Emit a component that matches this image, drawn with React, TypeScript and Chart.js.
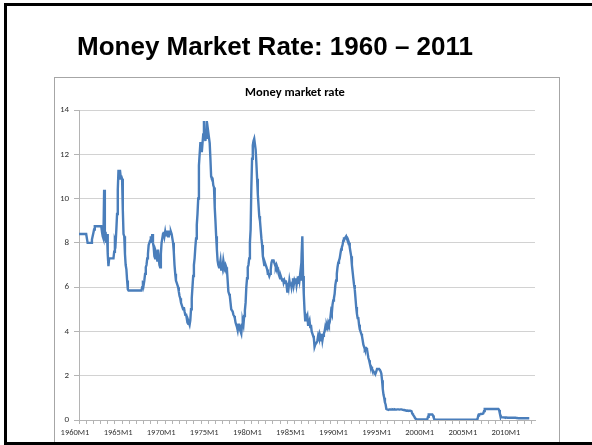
import React, { useEffect, useRef } from 'react';
import { Chart, registerables } from 'chart.js';

Chart.register(...registerables);

const slideTitle = 'Money Market Rate: 1960 – 2011';
const chartTitle = 'Money market rate';

const startYear = 1960;
const endYear = 2012;
const categories: string[] = [];
for (let y = startYear; y <= endYear; y++) {
  for (let m = 1; m <= 12; m++) categories.push(`${y}M${m}`);
}

// monthly values, one row per year
const rate1960s = [
  8.4, 8.4, 8.4, 8.4, 8.4, 8.4, 8.4, 8.4, 8.4, 8.4, 8.4, 8.4,
  8.0, 8.0, 8.0, 8.0, 8.0, 8.0, 8.15, 8.3, 8.45, 8.6, 8.75, 8.75,
  8.75, 8.75, 8.75, 8.75, 8.75, 8.75, 8.75, 8.75, 8.5, 8.3, 8.2, 10.4,
  8.1, 8.5, 8.0, 8.4, 7.5, 6.95, 7.3, 7.3, 7.3, 7.3, 7.3, 7.3,
  7.3, 7.6, 8.1, 8.0, 8.6, 9.3, 10.4, 11.3, 10.9, 11.3, 11.0, 11.0,
  10.9, 9.5, 8.4, 8.3, 7.5, 7.0, 6.8, 6.3, 5.9, 5.85, 5.85, 5.85,
  5.85, 5.85, 5.85, 5.85, 5.85, 5.85, 5.85, 5.85, 5.85, 5.85, 5.85, 5.85,
  5.85, 5.85, 5.85, 5.85, 6.0, 6.3, 6.1, 6.3, 6.6, 6.9, 7.0, 7.3,
  7.5, 7.9, 8.0, 8.1, 8.3, 8.0, 8.4, 8.0, 7.8, 7.4, 7.3, 7.6,
  7.5, 7.2, 7.7, 7.3, 7.0, 6.9, 7.5, 8.0, 8.2, 8.4, 8.5, 8.3,
];

const rate1970s = [
  8.5, 8.3, 8.5, 8.5, 8.3, 8.5, 8.5, 8.4, 8.5, 8.4, 8.2, 8.0,
  7.6, 7.0, 6.6, 6.3, 6.2, 6.1, 6.0, 5.8, 5.6, 5.5, 5.3, 5.2,
  5.1, 5.0, 5.1, 4.9, 4.75, 4.8, 4.6, 4.4, 4.35, 4.4, 4.3, 4.5,
  5.0, 5.5, 6.0, 6.5, 7.0, 7.3, 7.8, 8.2, 8.8, 9.3, 10.0, 11.5,
  12.0, 12.5, 12.5, 12.1, 12.5, 12.9, 13.5, 12.9, 12.6, 13.0, 13.5, 12.7,
  13.0, 13.0, 12.5, 11.8, 11.0, 10.9, 10.9, 10.6, 10.5, 9.6, 9.0, 8.3,
  7.7, 7.2, 7.0, 6.9, 7.0, 7.2, 6.8, 7.1, 6.9, 7.2, 7.0, 6.9,
  7.0, 6.9, 6.8, 6.3, 5.8, 5.7, 5.6, 5.3, 5.0, 5.0, 4.9, 4.75,
  4.7, 4.6, 4.4, 4.3, 4.2, 4.05, 4.3, 4.3, 4.1, 4.0, 3.9, 4.3,
  4.45, 4.3, 4.7, 4.95, 5.3, 6.0, 6.4, 6.9, 7.0, 7.3, 8.0, 8.6,
];

const rate1980s = [
  10.5, 11.8, 12.4, 12.6, 12.7, 12.7, 12.2, 11.6, 10.9, 10.2, 9.7, 9.2,
  9.0, 8.6, 8.2, 7.9, 7.4, 7.2, 7.0, 7.1, 7.0, 6.9, 6.8, 6.6,
  6.6, 6.5, 6.6, 6.8, 7.1, 7.2, 7.2, 7.2, 7.1, 7.0, 6.9, 7.0,
  6.9, 6.8, 6.6, 6.5, 6.4, 6.5, 6.4, 6.3, 6.4, 6.2, 6.3, 6.2,
  6.3, 6.1, 5.8, 6.2, 6.0, 6.3, 6.1, 6.2, 6.0, 6.2, 6.4, 6.1,
  6.3, 6.2, 6.4, 6.1, 6.3, 6.2, 6.5, 6.3, 6.6, 6.3, 7.5, 8.3,
  6.5, 5.7, 5.0, 4.5, 4.7, 4.6, 4.7, 4.3, 4.4, 4.5, 4.2, 4.3,
  4.0, 3.9, 3.8, 3.7, 3.3, 3.4, 3.4, 3.5, 3.6, 3.8, 3.7, 3.9,
  3.8, 3.6, 3.9, 3.6, 3.8, 3.9, 4.0, 4.2, 4.1, 4.3, 4.2, 4.4,
  4.3, 4.4, 4.6, 4.9, 4.8, 5.2, 5.4, 5.5, 5.7, 6.1, 6.3, 6.6,
];

const rate1990s = [
  6.9, 7.1, 7.2, 7.3, 7.5, 7.7, 7.8, 7.9, 8.1, 8.2, 8.2, 8.25,
  8.3, 8.2, 8.2, 8.1, 8.0, 7.8, 7.6, 7.4, 7.0, 6.7, 6.4, 6.1,
  5.9, 5.5, 5.1, 4.8, 4.6, 4.6, 4.3, 4.1, 4.0, 3.9, 3.8, 3.6,
  3.4, 3.3, 3.2, 3.25, 3.25, 3.2, 3.0, 2.8, 2.7, 2.55, 2.45, 2.4,
  2.3, 2.25, 2.2, 2.15, 2.1, 2.1, 2.2, 2.3, 2.3, 2.3, 2.3, 2.25,
  2.2, 2.1, 1.8, 1.4, 1.15, 1.0, 0.8, 0.7, 0.5, 0.48, 0.47, 0.47,
  0.47, 0.48, 0.48, 0.47, 0.47, 0.48, 0.47, 0.47, 0.48, 0.47, 0.47, 0.48,
  0.48, 0.48, 0.47, 0.47, 0.48, 0.48, 0.47, 0.47, 0.45, 0.45, 0.44, 0.44,
  0.42, 0.43, 0.42, 0.42, 0.42, 0.42, 0.41, 0.4, 0.3, 0.25, 0.2, 0.15,
  0.08, 0.05, 0.03, 0.03, 0.03, 0.03, 0.03, 0.03, 0.03, 0.03, 0.03, 0.03,
];

const rate2000s = [
  0.03, 0.03, 0.03, 0.03, 0.03, 0.03, 0.15, 0.25, 0.25, 0.25, 0.25, 0.25,
  0.25, 0.2, 0.1, 0.02, 0.01, 0.01, 0.01, 0.01, 0.01, 0.01, 0.01, 0.01,
  0.01, 0.01, 0.01, 0.01, 0.01, 0.01, 0.01, 0.01, 0.01, 0.01, 0.01, 0.01,
  0.01, 0.01, 0.01, 0.01, 0.01, 0.01, 0.01, 0.01, 0.01, 0.01, 0.01, 0.01,
  0.01, 0.01, 0.01, 0.01, 0.01, 0.01, 0.01, 0.01, 0.01, 0.01, 0.01, 0.01,
  0.01, 0.01, 0.01, 0.01, 0.01, 0.01, 0.01, 0.01, 0.01, 0.01, 0.01, 0.01,
  0.01, 0.01, 0.01, 0.05, 0.2, 0.25, 0.25, 0.27, 0.27, 0.27, 0.28, 0.3,
  0.4, 0.5, 0.5, 0.5, 0.5, 0.5, 0.5, 0.5, 0.5, 0.5, 0.5, 0.5,
  0.5, 0.5, 0.5, 0.5, 0.5, 0.5, 0.5, 0.5, 0.5, 0.45, 0.3, 0.2,
  0.12, 0.12, 0.12, 0.12, 0.12, 0.11, 0.11, 0.11, 0.11, 0.1, 0.1, 0.1,
];

const rate2010s: (number | null)[] = [
  0.1, 0.1, 0.1, 0.1, 0.1, 0.1, 0.1, 0.1, 0.1, 0.09, 0.09, 0.09,
  0.08, 0.08, 0.08, 0.08, 0.08, 0.08, 0.08, 0.08, 0.08, 0.08, 0.08, 0.08,
  0.08, 0.08, 0.08, 0.08, null, null, null, null, null, null, null, null,
];

const yMin = 0;
const yMax = 14;
const yStep = 2;
const labelEvery = 60;
const tickMarkEvery = 10;

const series = [...rate1960s, ...rate1970s, ...rate1980s, ...rate1990s, ...rate2000s, ...rate2010s];

const chartFont = '"Carlito", "Lato", sans-serif';

export default function App() {
  const ref = useRef<HTMLCanvasElement>(null);

  useEffect(() => {
    if (!ref.current) return;
    const chart = new Chart(ref.current, {
      type: 'line',
      data: {
        labels: categories,
        datasets: [
          {
            label: chartTitle,
            data: series,
            borderColor: '#4a7ebb',
            borderWidth: 2.4,
            pointRadius: 0,
            pointHoverRadius: 0,
            tension: 0,
            fill: false,
            spanGaps: false,
          },
        ],
      },
      options: {
        animation: false,
        responsive: false,
        maintainAspectRatio: false,
        events: [],
        layout: { padding: { left: 0, right: 24, top: 0, bottom: 0 } },
        plugins: {
          legend: { display: false },
          tooltip: { enabled: false },
          title: {
            display: true,
            text: chartTitle,
            color: '#000',
            font: { family: chartFont, size: 12.5, weight: 'bold' },
            padding: { top: 7, bottom: 10 },
          },
        },
        scales: {
          x: {
            type: 'category',
            offset: false,
            afterFit: (s: any) => {
              s.height = 25;
            },
            grid: {
              display: true,
              drawOnChartArea: false,
              drawTicks: true,
              tickLength: 4,
              tickColor: (ctx: any) => (ctx.index % tickMarkEvery === 0 ? '#b4b4b4' : 'rgba(0,0,0,0)'),
            },
            border: { display: true, color: '#b4b4b4', width: 1 },
            ticks: {
              autoSkip: false,
              maxRotation: 0,
              minRotation: 0,
              padding: 4,
              labelOffset: -4,
              color: '#333333',
              font: { family: chartFont, size: 8.5 },
              callback: (_v: any, i: number) => (i % labelEvery === 0 ? categories[i] : ''),
            },
          },
          y: {
            min: yMin,
            max: yMax,
            afterFit: (s: any) => {
              s.width = 24;
            },
            grid: {
              color: '#d2d2d2',
              lineWidth: 1,
              drawTicks: true,
              tickLength: 5,
              tickColor: '#b4b4b4',
            },
            border: { display: true, color: '#b4b4b4', width: 1 },
            ticks: {
              stepSize: yStep,
              padding: 5,
              color: '#333333',
              font: { family: chartFont, size: 9 },
            },
          },
        },
      },
    });
    return () => chart.destroy();
  }, []);

  return (
    <div
      style={{
        position: 'fixed',
        left: 0,
        top: 0,
        width: 592,
        height: 445,
        overflow: 'hidden',
        background: '#ffffff',
      }}
    >
      <div
        style={{
          position: 'absolute',
          left: 54,
          top: 77,
          width: 506,
          height: 400,
          border: '1px solid #a6a6a6',
          boxSizing: 'border-box',
          background: '#fff',
        }}
      >
        <canvas ref={ref} width={504} height={367} style={{ display: 'block', width: 504, height: 367 }} />
      </div>
      <div
        style={{
          position: 'absolute',
          left: 4,
          top: 3,
          width: 640,
          height: 442,
          border: '3px solid #000',
          boxSizing: 'border-box',
        }}
      />
      <div
        style={{
          position: 'absolute',
          left: 77,
          top: 33,
          fontFamily: '"Liberation Sans", Arial, sans-serif',
          fontWeight: 'bold',
          fontSize: 26,
          lineHeight: '26px',
          whiteSpace: 'nowrap',
          color: '#000',
        }}
      >
        {slideTitle}
      </div>
    </div>
  );
}
